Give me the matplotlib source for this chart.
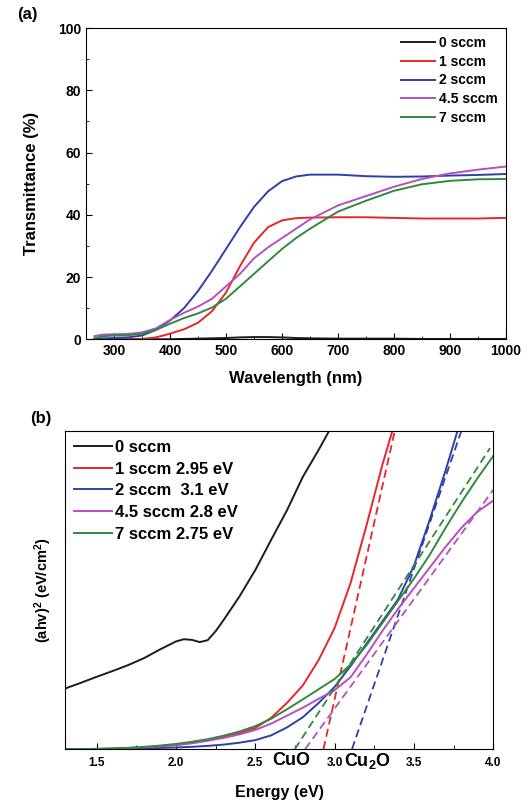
import numpy as np
import matplotlib
matplotlib.use('Agg')
import matplotlib.pyplot as plt
from matplotlib.ticker import MultipleLocator

plt.rcParams['font.family'] = ['Liberation Sans', 'DejaVu Sans']
plt.rcParams['font.weight'] = 'bold'
plt.rcParams['mathtext.fontset'] = 'custom'
plt.rcParams['mathtext.rm'] = 'Liberation Sans:bold'
plt.rcParams['mathtext.bf'] = 'Liberation Sans:bold'
plt.rcParams['mathtext.default'] = 'bf'

# ---- panel (a): transmittance ----
wl = [265, 280, 300, 325, 350, 375, 400, 425, 450, 475, 500, 525, 550, 575,
      600, 625, 650, 700, 750, 800, 850, 900, 950, 1000]
t_0 = [0, 0, 0, 0, 0, 0, 0, 0.1, 0.2, 0.3, 0.4, 0.6, 0.7, 0.7,
       0.6, 0.4, 0.3, 0.2, 0.2, 0.2, 0.1, 0.1, 0.1, 0.1]
t_1 = [0, 0, 0, 0, 0.1, 0.6, 1.8, 3.2, 5.3, 9.0, 15, 23.5, 31, 36,
       38.2, 38.9, 39.1, 39.2, 39.2, 39.0, 38.8, 38.8, 38.8, 39.0]
t_2 = [0.2, 0.3, 0.4, 0.6, 1.2, 3.0, 6.0, 10, 15.5, 22, 29, 36, 42.5, 47.5,
       50.8, 52.3, 52.9, 52.9, 52.4, 52.2, 52.3, 52.6, 52.8, 53.1]
t_45 = [1.0, 1.5, 1.6, 1.7, 2.2, 3.5, 6.2, 8.5, 10.5, 13, 17, 21, 26, 29.5,
        32.5, 35.5, 38.5, 43, 46, 49, 51.5, 53.3, 54.5, 55.5]
t_7 = [0.3, 1.0, 1.2, 1.3, 1.8, 3.0, 5.0, 6.8, 8.3, 10.2, 13, 17, 21, 25,
       29, 32.5, 35.5, 41, 44.5, 47.7, 49.8, 50.9, 51.4, 51.5]

labels_a = ['0 sccm', '1 sccm', '2 sccm', '4.5 sccm', '7 sccm']
colors = ['#1c1c1c', '#e8262a', '#2e3fa8', '#b450c0', '#2f8a3c']

# ---- panel (b): Tauc plot ----
energy = [1.3, 1.4, 1.5, 1.6, 1.7, 1.8, 1.9, 2.0, 2.1, 2.2, 2.3, 2.4, 2.5, 2.6,
          2.7, 2.8, 2.9, 3.0, 3.1, 3.2, 3.3, 3.4, 3.5, 3.6, 3.7, 3.8, 3.9, 4.0]
e_black = [1.3, 1.4, 1.5, 1.6, 1.7, 1.8, 1.9, 2.0, 2.05, 2.1, 2.15, 2.2, 2.25,
           2.3, 2.4, 2.5, 2.6, 2.7, 2.8, 2.9, 3.0]
a_0 = [19, 20.8, 22.7, 24.5, 26.4, 28.6, 31.3, 33.8, 34.5, 34.3, 33.6, 34.2, 37,
       40.5, 47.9, 56.2, 65.7, 75, 85.5, 94, 103]
a_1 = [0, 0, 0.05, 0.1, 0.3, 0.5, 0.9, 1.4, 2.0, 2.8, 3.8, 5.0, 6.6, 9.8,
       14.5, 20, 28, 38, 52, 70, 89, 106, 120, 130, 140, 150, 160, 170]
a_2 = [0, 0, 0, 0.05, 0.1, 0.2, 0.35, 0.5, 0.7, 1.0, 1.4, 2.0, 2.8, 4.3,
       6.8, 10, 14.5, 19.5, 26, 33, 40, 47, 57.5, 72, 87.5, 104, 120, 130]
a_45 = [0, 0, 0.05, 0.2, 0.35, 0.55, 0.85, 1.2, 1.8, 2.6, 3.5, 4.6, 6, 8,
        10.5, 13, 15.8, 18.5, 22.5, 29.5, 37, 44, 50.5, 57, 63.5, 69.5, 74.5, 78]
a_7 = [0, 0, 0.05, 0.2, 0.4, 0.7, 1.1, 1.6, 2.3, 3.1, 4.2, 5.5, 7.2, 9.5,
       12.5, 15.6, 18.8, 22, 26.5, 32.5, 39.5, 46.5, 53.5, 61, 69.5, 77.5, 85, 92]

# linear fits (two end points each)
fit_1 = ([2.93, 3.38], [0, 100])
fit_2 = ([3.11, 3.80], [0, 100])
fit_45 = ([2.815, 4.0], [0, 81.4])
fit_7 = ([2.75, 3.98], [0, 94.5])

labels_b = ['0 sccm', '1 sccm 2.95 eV', '2 sccm  3.1 eV', '4.5 sccm 2.8 eV', '7 sccm 2.75 eV']

fig = plt.figure(figsize=(5.28, 8.02), dpi=100)

# ===== (a) =====
ax1 = fig.add_axes([0.163, 0.577, 0.795, 0.388])
for y, c, lab in zip([t_0, t_1, t_2, t_45, t_7], colors, labels_a):
    ax1.plot(wl, y, color=c, lw=1.4, label=lab)
ax1.set_xlim(250, 1000)
ax1.set_ylim(0, 100)
ax1.xaxis.set_major_locator(MultipleLocator(100))
ax1.xaxis.set_minor_locator(MultipleLocator(50))
ax1.yaxis.set_major_locator(MultipleLocator(20))
ax1.yaxis.set_minor_locator(MultipleLocator(10))
ax1.tick_params(which='both', direction='in', labelsize=10)
ax1.tick_params(which='major', length=4)
ax1.tick_params(which='minor', length=2)
ax1.set_xlabel('Wavelength (nm)', fontsize=12, fontweight='bold', labelpad=9)
ax1.set_ylabel('Transmittance (%)', fontsize=12, fontweight='bold', labelpad=14)
ax1.legend(loc='upper right', frameon=False, fontsize=10, handlelength=2.4,
           handletextpad=0.35, labelspacing=0.35, borderaxespad=0.15)
fig.text(0.032, 0.982, '(a)', fontsize=12, fontweight='bold', va='center')

# ===== (b) =====
ax2 = fig.add_axes([0.123, 0.066, 0.811, 0.397])
ax2.plot(e_black, a_0, color=colors[0], lw=1.4, label=labels_b[0])
for y, fit, c, lab in zip([a_1, a_2, a_45, a_7], [fit_1, fit_2, fit_45, fit_7],
                          colors[1:], labels_b[1:]):
    ax2.plot(energy, y, color=c, lw=1.4, label=lab)
    ax2.plot(fit[0], fit[1], color=c, lw=1.3, ls=(0, (4.5, 2.5)))
ax2.set_xlim(1.3, 4.0)
ax2.set_ylim(0, 100)
ax2.xaxis.set_major_locator(MultipleLocator(0.5))
ax2.xaxis.set_minor_locator(MultipleLocator(0.25))
ax2.set_yticks([])
ax2.tick_params(which='both', direction='in', labelsize=8.5, pad=6)
ax2.tick_params(which='major', length=4)
ax2.tick_params(which='minor', length=3)
ax2.set_xlabel('Energy (eV)', fontsize=11.5, fontweight='bold', labelpad=11)
ax2.set_ylabel(r'(ahv)$^2$ (eV/cm$^2$)', fontsize=10.5, fontweight='bold', labelpad=8)
ax2.text(2.73, -0.037, 'CuO', transform=ax2.get_xaxis_transform(), ha='center', va='center',
         fontsize=13, fontweight='bold')
ax2.text(3.21, -0.037, r'Cu$_2$O', transform=ax2.get_xaxis_transform(), ha='center', va='center',
         fontsize=13, fontweight='bold')
ax2.legend(loc='upper left', frameon=False, fontsize=12, handlelength=2.3,
           labelspacing=0.4, borderaxespad=0.15, handletextpad=0.15)
fig.text(0.057, 0.478, '(b)', fontsize=12, fontweight='bold', va='center')

fig.savefig('out.png', dpi=100)
